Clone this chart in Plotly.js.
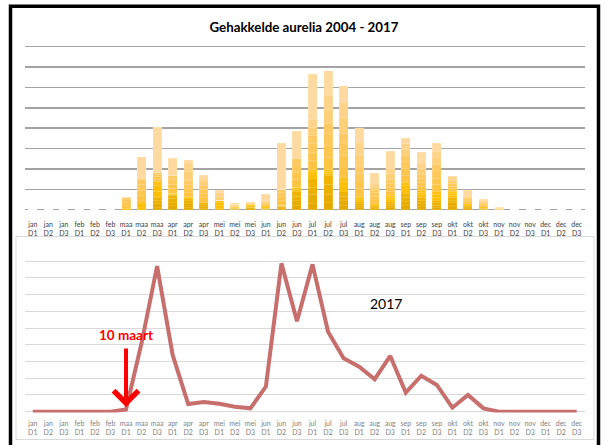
<!DOCTYPE html>
<html>
<head>
<meta charset="utf-8">
<script src="https://cdn.plot.ly/plotly-3.0.1.min.js"></script>
<style>html,body{margin:0;padding:0;background:#fff;}#chart{width:605px;height:445px;}</style>
</head>
<body>
<div id="chart"></div>
<script>
const months = ["jan","jan","jan","feb","feb","feb","maa","maa","maa","apr","apr","apr","mei","mei","mei","jun","jun","jun","jul","jul","jul","aug","aug","aug","sep","sep","sep","okt","okt","okt","nov","nov","nov","dec","dec","dec"];
const decades = ["D1","D2","D3","D1","D2","D3","D1","D2","D3","D1","D2","D3","D1","D2","D3","D1","D2","D3","D1","D2","D3","D1","D2","D3","D1","D2","D3","D1","D2","D3","D1","D2","D3","D1","D2","D3"];
const categories = months.map((m, i) => m + "<br>" + decades[i]);

const years = ["2004","2005","2006","2007","2008","2009","2010","2011","2012","2013","2014","2015","2016","2017"];
const y2004 = [0,0,0,0,0,0, 0,0,0.1,0.2,0.1,0.05,0,0.03,0.05,0.02,0.05,0.2,0.3,0.35,0.2,0.1,0.05,0.1,0.2,0.15,0.1,0.15,0.05,0.03,0, 0,0,0,0,0];
const y2005 = [0,0,0,0,0,0, 0,0,0.2,0.15,0.2,0.1,0.05,0.03,0.04,0.03,0.05,0.25,0.45,0.4,0.25,0.1,0.05,0.12,0.18,0.15,0.12,0.2,0.05,0.02,0, 0,0,0,0,0];
const y2006 = [0,0,0,0,0,0, 0,0,0.15,0.2,0.14,0.09,0,0.02,0.03,0.03,0.04,0.2,0.35,0.5,0.22,0.08,0.05,0.08,0.22,0.15,0.13,0.1,0.05,0.03,0, 0,0,0,0,0];
const y2007 = [0,0,0,0,0,0, 0,0,0.15,0.15,0.1,0.1,0,0.02,0.03,0.02,0.04,0.25,0.42,0.43,0.2,0.1,0.05,0.1,0.18,0.15,0.1,0.15,0.05,0.02,0, 0,0,0,0,0];
const y2008 = [0,0,0,0,0,0, 0,0.1,0.3,0.05,0.05,0,0.15,0.02,0.05,0.05,0.02,0.1,0.2,0.1,0.25,0.1,0.05,0.1,0.2,0.15,0.15,0.1,0.05,0.05,0, 0,0,0,0,0];
const y2009 = [0,0,0,0,0,0, 0.05,0.2,0.3,0.05,0,0,0.15,0.03,0.05,0.05,0.03,0.1,0.16,0.1,0.25,0.1,0.05,0.1,0.2,0.1,0.15,0.1,0.05,0,0, 0,0,0,0,0];
const y2010 = [0,0,0,0,0,0, 0,0.1,0.2,0,0.05,0,0.12,0,0,0,0,0,0.1,0.1,0.2,0.08,0,0.1,0.17,0.1,0.15,0.1,0,0,0, 0,0,0,0,0];
const y2011 = [0,0,0,0,0,0, 0.15,0.3,0.1,0.25,0.2,0.25,0,0.03,0.02,0.05,0.2,0.4,0.45,0.6,0.55,0.4,0.2,0.2,0.35,0.2,0.35,0.15,0.1,0.05,0.02, 0,0,0,0,0];
const y2012 = [0,0,0,0,0,0, 0.15,0.25,0.15,0.2,0.2,0.2,0,0.03,0.02,0.05,0.2,0.35,0.4,0.55,0.55,0.35,0.15,0.2,0.3,0.2,0.3,0.1,0.05,0.05,0.02, 0,0,0,0,0];
const y2013 = [0,0,0,0,0,0, 0.15,0.3,0.1,0.25,0.2,0.22,0,0.02,0.02,0.05,0.2,0.35,0.42,0.6,0.56,0.37,0.2,0.2,0.35,0.2,0.35,0.15,0.1,0.05,0.02, 0,0,0,0,0];
const y2014 = [0,0,0,0,0,0, 0.1,0.21,0.1,0.2,0.2,0.2,0,0.02,0.02,0.04,0.17,0.3,0.4,0.49,0.5,0.35,0.15,0.2,0.3,0.2,0.3,0.1,0.05,0.05,0.02, 0,0,0,0,0];
const y2015 = [0,0,0,0,0,0, 0,0.05,0,0,0.45,0.2,0.2,0.01,0,0,0,0,0.4,0.7,0.8,0.6,0.15,0.28,0.3,0.25,0.35,0.1,0.06,0.06,0.05, 0,0,0,0,0];
const y2016 = [0,0,0,0,0,0, 0,0.05,0,0,0.43,0.14,0.16,0,0,0,0,0,0.37,0.69,0.75,0.59,0.15,0.25,0.29,0.28,0.31,0.11,0.05,0.06,0, 0,0,0,0,0];
const y2017 = [0,0,0,0,0,0, 0.04,1.04,2.2,0.82,0.12,0.15,0.12,0.08,0.05,0.38,2.27,1.36,2.22,1.22,0.8,0.7,0.5,0.85,0.29,0.55,0.41,0.06,0.26,0.05,0, 0,0,0,0,0];
const yearValues = [y2004,y2005,y2006,y2007,y2008,y2009,y2010,y2011,y2012,y2013,y2014,y2015,y2016,y2017];

const line2017 = [0,0,0,0,0,0,0.14,4.1,8.7,3.39,0.46,0.58,0.48,0.3,0.2,1.5,8.86,5.4,8.8,4.78,3.19,2.69,1.94,3.33,1.14,2.15,1.6,0.24,1.0,0.2,0,0,0,0,0,0];

const yearColors = ["#E3A900","#E7AC00","#EBB000","#EFB300","#FFBE00","#FFC000","#FFC214","#FFC443","#FFC64F","#FFC85A","#FFCA63","#FFD07A","#FFD48A","#FFDAA0"];

const W = 605, H = 445;
const font = "Lato, 'Liberation Sans', sans-serif";

const traces = yearValues.map((vals, i) => ({
  type: "bar", x: categories, y: vals, name: years[i],
  xaxis: "x", yaxis: "y",
  marker: {color: yearColors[i], line: {color: "rgba(255,255,255,0.45)", width: 0.3}},
  hoverinfo: "skip"
}));
traces.push({
  type: "scatter", mode: "lines", x: categories, y: line2017, name: "2017",
  xaxis: "x2", yaxis: "y2",
  line: {color: "#C76F6D", width: 4}, hoverinfo: "skip"
});

const xdom = [25/W, 584.5/W];
const topPx = 20.375, botPx = 16.74;
const layout = {
  width: W, height: H,
  margin: {l: 0, r: 0, t: 0, b: 0},
  paper_bgcolor: "#ffffff", plot_bgcolor: "#ffffff",
  showlegend: false, barmode: "stack", bargap: 0.42,
  font: {family: font},
  title: {text: "<b>Gehakkelde aurelia 2004 - 2017</b>", x: 304/W, xanchor: "center", y: 1 - 27/H, yanchor: "middle",
          font: {family: font, size: 13.3, color: "#000000"}},
  xaxis: {domain: xdom, anchor: "y", type: "category", range: [-0.5, 35.5], showgrid: false, showline: false,
          ticks: "", ticklabelstandoff: 8, tickfont: {size: 7, color: "#404040", family: font}, tickangle: 0, fixedrange: true},
  yaxis: {domain: [1 - (209.7 + 0.05*topPx)/H, 1 - (46.7 - 0.05*topPx)/H], range: [-0.05, 8.05], dtick: 1, tick0: 0,
          showticklabels: false, ticks: "",
          showgrid: true, gridcolor: "#A3A3A3", gridwidth: 1.5, zeroline: true, zerolinecolor: "#A3A3A3", zerolinewidth: 1.5, showline: false},
  xaxis2: {domain: xdom, anchor: "y2", type: "category", range: [-0.5, 35.5], showgrid: false, showline: false,
           ticks: "", ticklabelstandoff: 5, tickfont: {size: 7, color: "#7F7F7F", family: font}, tickangle: 0, fixedrange: true},
  yaxis2: {domain: [1 - (411.7 + 0.05*botPx)/H, 1 - (244.3 - 0.05*botPx)/H], range: [-0.05, 10.05], dtick: 1, tick0: 0,
           showticklabels: false, ticks: "",
           showgrid: true, gridcolor: "#D9D9D9", gridwidth: 1, zeroline: true, zerolinecolor: "#D9D9D9", zerolinewidth: 1, showline: false},
  shapes: [
    {type: "rect", xref: "paper", yref: "paper", x0: 16/W, x1: 594/W, y0: 1 - 439.5/H, y1: 1 - 236.5/H,
     line: {color: "#D9D9D9", width: 1}, layer: "below"},
    {type: "rect", xref: "paper", yref: "paper", x0: 10.5/W, x1: 598.5/W, y0: -0.1, y1: 1 - 6.3/H,
     line: {color: "#000000", width: 3.5}}
  ],
  annotations: [
    {xref: "x2", yref: "y2", x: categories[6], y: 0.28, ax: 0, ay: -60, axref: "pixel", ayref: "pixel",
     showarrow: true, arrowhead: 4, arrowsize: 1.2, arrowwidth: 4, arrowcolor: "#FF0000", text: ""},
    {xref: "x2", yref: "y2", x: categories[6], y: 4.58, text: "<b>10 maart</b>", showarrow: false,
     font: {family: font, size: 13.5, color: "#FF0000"}, xanchor: "center", yanchor: "middle"},
    {xref: "paper", yref: "paper", x: 386/W, y: 1 - 303/H, text: "2017", showarrow: false,
     font: {family: font, size: 14, color: "#000000"}, xanchor: "center", yanchor: "middle"}
  ]
};

Plotly.newPlot("chart", traces, layout, {staticPlot: true, displayModeBar: false});
</script>
</body>
</html>
